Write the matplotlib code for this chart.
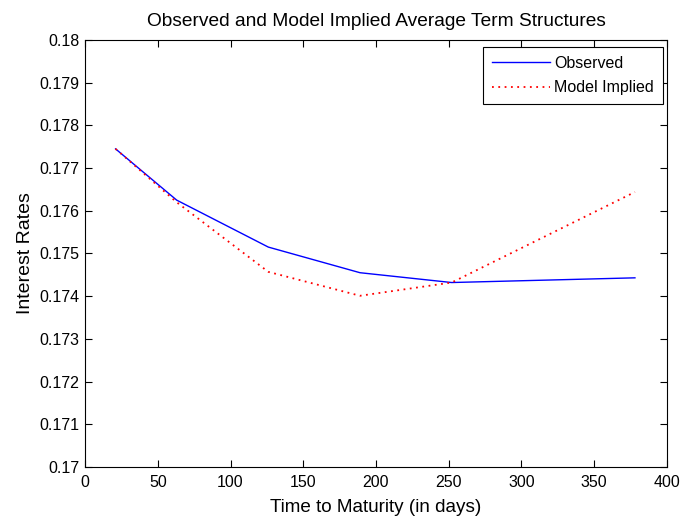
import matplotlib
matplotlib.use("Agg")
import matplotlib.pyplot as plt

days = [21, 63, 126, 189, 252, 378]
observed = [0.17745, 0.17625, 0.17515, 0.17455, 0.17432, 0.17443]
model_implied = [0.17745, 0.1762, 0.17457, 0.17401, 0.17432, 0.17644]
xticks = [0, 50, 100, 150, 200, 250, 300, 350, 400]
yticks = [0.17, 0.171, 0.172, 0.173, 0.174, 0.175, 0.176, 0.177, 0.178, 0.179, 0.18]
ytick_labels = ["0.17", "0.171", "0.172", "0.173", "0.174", "0.175", "0.176", "0.177", "0.178", "0.179", "0.18"]

plt.rcParams['font.family'] = ['Liberation Sans', 'DejaVu Sans']

fig = plt.figure(figsize=(6.83, 5.25), dpi=100)
ax = fig.add_axes([0.1245, 0.1105, 0.852, 0.8133])

ax.plot(days, observed, color='#0000ff', linewidth=1.0, label='Observed')
ax.plot(days, model_implied, color='#ff0000', linewidth=1.3, linestyle=(0, (1, 2.5)), label='Model Implied')

ax.set_xlim(0, 400)
ax.set_ylim(0.17, 0.18)
ax.set_xticks(xticks)
ax.set_yticks(yticks)
ax.set_yticklabels(ytick_labels)
ax.tick_params(direction='in', top=True, right=True, length=5, labelsize=11.5, width=0.8)
ax.tick_params(axis='x', pad=6)
ax.tick_params(axis='y', pad=4)
for s in ax.spines.values():
    s.set_linewidth(0.8)

ax.set_title('Observed and Model Implied Average Term Structures', fontsize=13.8, pad=10)
ax.set_xlabel('Time to Maturity (in days)', fontsize=13.6, labelpad=6)
ax.set_ylabel('Interest Rates', fontsize=14, labelpad=4)

leg = ax.legend(loc='upper right', bbox_to_anchor=(0.993, 0.984), fancybox=False,
                edgecolor='black', framealpha=1,
                fontsize=11.5, handlelength=3.6, borderaxespad=0.0, handletextpad=0.3,
                labelspacing=0.6, borderpad=0.55)
leg.get_frame().set_linewidth(0.8)

fig.savefig('out.png', dpi=100)
